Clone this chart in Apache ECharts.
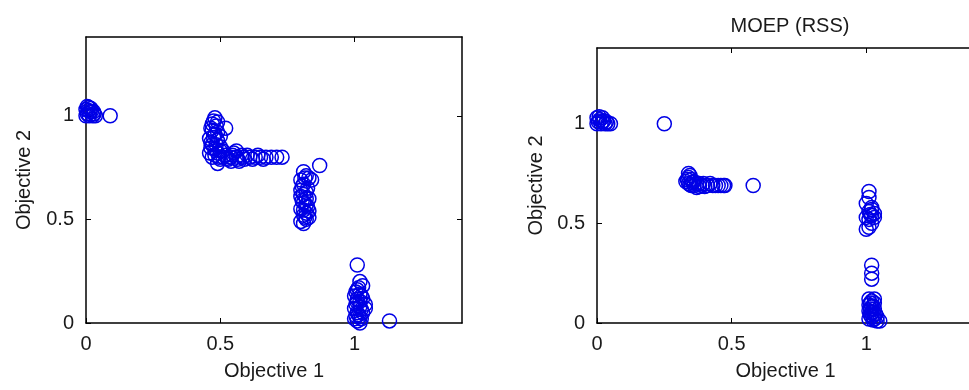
<!DOCTYPE html>
<html>
<head>
<meta charset="utf-8">
<script src="https://cdn.jsdelivr.net/npm/echarts@6/dist/echarts.min.js"></script>
<style>html,body{margin:0;padding:0;background:#fff;}#c{width:969px;height:390px;}</style>
</head>
<body>
<div id="c"></div>
<script>
// ---- data ----
var xTickLabels = [0, 0.5, 1];
var yTickLabels = [0, 0.5, 1];
var boxTicks = [0.5, 1];
var rightTitle = 'MOEP (RSS)';
var xName = 'Objective 1';
var yName = 'Objective 2';

var leftPoints = [
  [0.0,1.03],[0.005,1.01],[0.01,1.04],[0.012,1.0],[0.02,1.02],[0.025,1.0],[0.03,1.01],[0.015,1.02],[0.0,1.0],[0.035,1.0],[0.008,1.025],[0.018,1.035],[0.028,1.02],[0.005,1.045],[0.09,1.0],
  [0.48,0.99],[0.47,0.96],[0.49,0.97],[0.52,0.94],[0.47,0.93],[0.48,0.91],[0.46,0.89],[0.49,0.88],[0.47,0.86],[0.48,0.84],[0.46,0.82],[0.49,0.82],[0.47,0.80],[0.5,0.79],[0.49,0.77],[0.51,0.80],[0.5,0.85],
  [0.475,0.975],[0.485,0.95],[0.465,0.94],[0.49,0.92],[0.475,0.895],[0.5,0.9],[0.465,0.87],[0.485,0.86],[0.5,0.83],[0.465,0.845],[0.48,0.81],[0.495,0.8],[0.51,0.83],
  [0.52,0.81],[0.53,0.79],[0.55,0.82],[0.56,0.80],[0.58,0.81],[0.59,0.79],[0.61,0.80],[0.63,0.80],[0.65,0.80],[0.67,0.80],[0.69,0.80],[0.71,0.80],[0.73,0.80],[0.54,0.80],[0.57,0.78],
  [0.525,0.795],[0.545,0.81],[0.565,0.79],[0.585,0.80],[0.6,0.81],[0.62,0.79],[0.64,0.81],[0.66,0.79],[0.54,0.78],[0.56,0.83],
  [0.81,0.73],[0.82,0.71],[0.80,0.69],[0.83,0.70],[0.81,0.67],[0.80,0.64],[0.82,0.63],[0.80,0.61],[0.83,0.60],[0.81,0.58],[0.82,0.57],[0.80,0.55],[0.83,0.54],[0.81,0.52],[0.82,0.50],[0.80,0.49],[0.81,0.48],[0.83,0.51],[0.84,0.69],[0.87,0.76],
  [0.815,0.7],[0.805,0.66],[0.825,0.65],[0.81,0.62],[0.82,0.6],[0.805,0.59],[0.825,0.56],[0.81,0.545],[0.815,0.51],[0.82,0.53],
  [1.01,0.28],[1.02,0.20],[1.03,0.18],[1.01,0.16],[1.02,0.14],[1.00,0.13],[1.03,0.12],[1.01,0.10],[1.04,0.09],[1.02,0.08],[1.00,0.07],[1.01,0.05],[1.03,0.05],[1.02,0.03],[1.00,0.02],[1.01,0.01],[1.02,0.0],[1.04,0.07],
  [1.015,0.17],[1.005,0.15],[1.025,0.13],[1.01,0.115],[1.02,0.105],[1.005,0.09],[1.025,0.065],[1.015,0.04],[1.005,0.035],[1.025,0.02],[1.13,0.01]
];

var rightPoints = [
  [0.0,1.03],[0.005,1.01],[0.01,1.02],[0.015,1.0],[0.02,1.01],[0.03,1.0],[0.04,1.0],[0.02,1.03],[0.0,1.0],[0.05,1.0],[0.008,1.035],[0.025,1.015],[0.035,1.01],[0.25,1.0],
  [0.34,0.75],[0.34,0.73],[0.33,0.71],[0.35,0.72],[0.34,0.70],[0.36,0.69],[0.38,0.70],[0.37,0.68],[0.39,0.69],[0.41,0.69],[0.42,0.70],[0.43,0.69],[0.44,0.69],[0.45,0.69],[0.46,0.69],[0.47,0.69],[0.35,0.69],[0.36,0.71],
  [0.335,0.72],[0.345,0.695],[0.355,0.705],[0.37,0.7],[0.38,0.685],[0.395,0.7],[0.4,0.685],[0.345,0.74],[0.475,0.69],[0.58,0.69],
  [1.01,0.66],[1.01,0.63],[1.00,0.60],[1.02,0.58],[1.01,0.56],[1.03,0.55],[1.02,0.54],[1.00,0.53],[1.01,0.52],[1.03,0.53],[1.02,0.50],[1.01,0.48],[1.00,0.47],[1.015,0.545],[1.02,0.57],
  [1.02,0.29],[1.02,0.25],[1.02,0.22],[1.01,0.12],[1.02,0.11],[1.03,0.10],[1.01,0.09],[1.02,0.08],[1.03,0.07],[1.01,0.06],[1.02,0.05],[1.03,0.04],[1.02,0.03],[1.04,0.03],[1.03,0.02],[1.05,0.01],[1.04,0.01],[1.01,0.02],[1.03,0.12],
  [1.015,0.1],[1.025,0.085],[1.015,0.07],[1.025,0.055],[1.015,0.04],[1.035,0.045],[1.025,0.015]
];

// ---- chart ----
var FONT = 'Liberation Sans, Arial, sans-serif';
var TXT = '#1a1a1a';
var FS = 20;

function axisLine() {
  return {show: true, onZero: false, lineStyle: {color: '#000', width: 1.5}};
}
function xMain(grid) {
  return {
    type: 'value', gridIndex: grid, position: 'bottom', min: 0, max: 1.4,
    name: xName, nameLocation: 'middle', nameGap: 38,
    nameTextStyle: {fontFamily: FONT, fontSize: FS, color: TXT},
    axisLine: axisLine(),
    axisTick: {show: true, inside: true, length: 5, customValues: xTickLabels, lineStyle: {color: '#000'}},
    axisLabel: {show: true, customValues: xTickLabels, margin: 11, fontFamily: FONT, fontSize: FS, color: TXT},
    splitLine: {show: false}
  };
}
function xTop(grid) {
  return {
    type: 'value', gridIndex: grid, position: 'top', min: 0, max: 1.4,
    axisLine: axisLine(),
    axisTick: {show: true, inside: true, length: 5, customValues: boxTicks, lineStyle: {color: '#000'}},
    axisLabel: {show: false}, splitLine: {show: false}
  };
}
function yMain(grid, gap) {
  return {
    type: 'value', gridIndex: grid, position: 'left', min: 0, max: 1.38,
    name: yName, nameLocation: 'middle', nameGap: gap, nameRotate: 90,
    nameTextStyle: {fontFamily: FONT, fontSize: FS, color: TXT},
    axisLine: axisLine(),
    axisTick: {show: true, inside: true, length: 5, customValues: yTickLabels, lineStyle: {color: '#000'}},
    axisLabel: {show: true, customValues: yTickLabels, margin: 12, fontFamily: FONT, fontSize: FS, color: TXT},
    splitLine: {show: false}
  };
}
function yRight(grid) {
  return {
    type: 'value', gridIndex: grid, position: 'right', min: 0, max: 1.38,
    axisLine: axisLine(),
    axisTick: {show: true, inside: true, length: 5, customValues: boxTicks, lineStyle: {color: '#000'}},
    axisLabel: {show: false}, splitLine: {show: false}
  };
}
function scatter(x, y, data) {
  return {
    type: 'scatter', xAxisIndex: x, yAxisIndex: y, data: data,
    symbol: 'circle', symbolSize: 14, silent: true,
    itemStyle: {color: 'rgba(0,0,0,0)', borderColor: '#0000e6', borderWidth: 1.5, opacity: 1}
  };
}

var chart = echarts.init(document.getElementById('c'), null, {renderer: 'canvas'});
chart.setOption({
  animation: false,
  backgroundColor: '#fff',
  title: {
    text: rightTitle, left: 785, top: 11, textAlign: 'center',
    textStyle: {fontFamily: FONT, fontSize: FS, fontWeight: 'normal', color: TXT}
  },
  grid: [
    {left: 86, top: 37, width: 376, height: 286, outerBoundsMode: 'none', containLabel: false},
    {left: 597, top: 48, width: 377, height: 275, outerBoundsMode: 'none', containLabel: false}
  ],
  xAxis: [xMain(0), xTop(0), xMain(1), xTop(1)],
  yAxis: [yMain(0, 52), yRight(0), yMain(1, 51), yRight(1)],
  series: [
    scatter(0, 0, leftPoints),
    scatter(2, 2, rightPoints)
  ]
});
</script>
</body>
</html>
